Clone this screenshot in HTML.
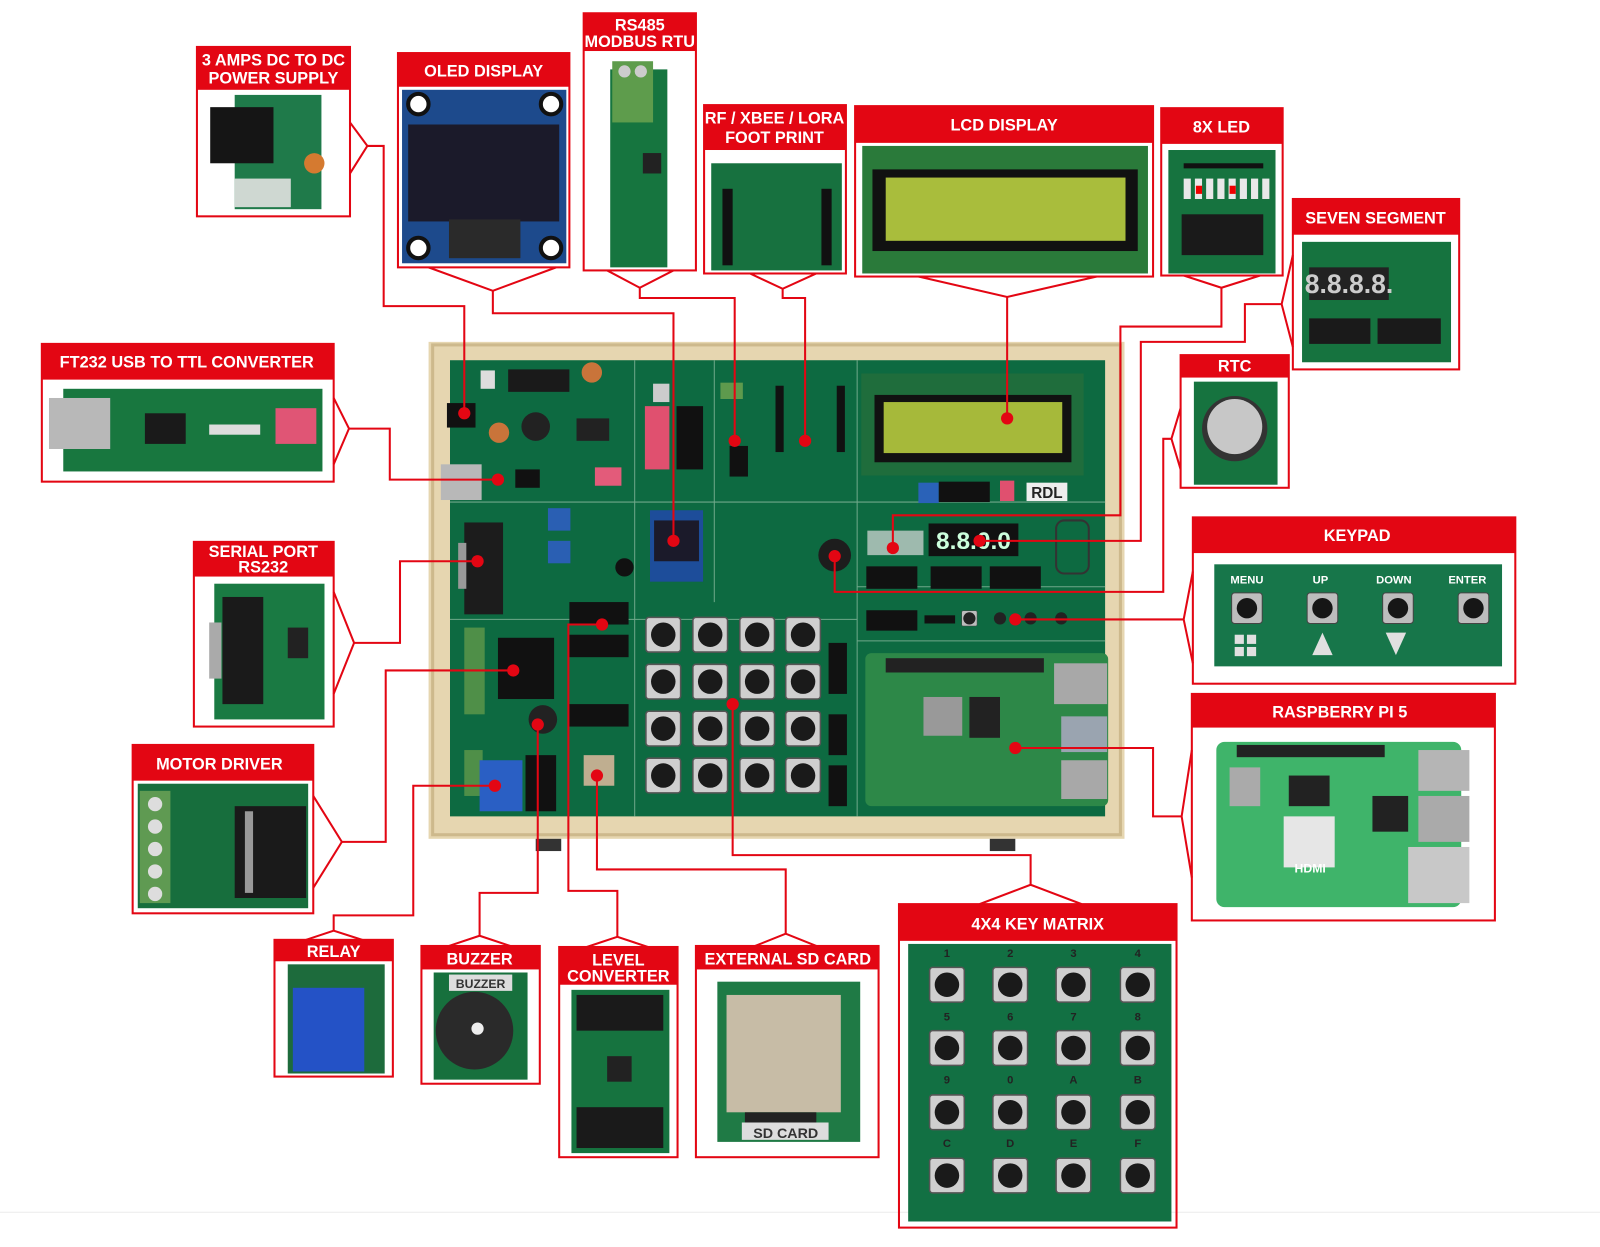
<!DOCTYPE html>
<html><head><meta charset="utf-8"><style>
html,body{margin:0;padding:0;background:#fff;}
svg{display:block;}
text{font-family:"Liberation Sans",Arial,sans-serif;font-weight:bold;}
</style></head><body>
<svg width="1600" height="1247" viewBox="0 0 1568 1222" preserveAspectRatio="none" xmlns="http://www.w3.org/2000/svg">
<defs>
<g id="key"><rect x="-17" y="-17" width="34" height="34" rx="3" fill="#cfcfcf" stroke="#555" stroke-width="1.5"/><circle r="12" fill="#1a1a1a"/></g>
<g id="skey"><rect x="-15" y="-15" width="30" height="30" rx="3" fill="#bdbdbd" stroke="#444"/><circle r="10" fill="#161616"/></g>
</defs>
<rect width="1568" height="1222" fill="#fff"/>
<line x1="0" y1="1188" x2="1568" y2="1188" stroke="#eee" stroke-width="1"/>

<!-- ===== BOARD ===== -->
<rect x="420" y="335" width="682" height="487" fill="#e6d6b0"/>
<rect x="424" y="338" width="674" height="480" fill="none" stroke="#cdb98c" stroke-width="3"/>
<rect x="441" y="353" width="642" height="447" fill="#0d6a41"/>
<rect x="525" y="822" width="25" height="12" fill="#333"/>
<rect x="970" y="822" width="25" height="12" fill="#333"/>
<g stroke="#6fa88a" stroke-width="1" fill="none">
<line x1="441" y1="492" x2="1083" y2="492"/><line x1="441" y1="607" x2="840" y2="607"/>
<line x1="622" y1="353" x2="622" y2="800"/><line x1="700" y1="353" x2="700" y2="590"/>
<line x1="840" y1="353" x2="840" y2="800"/><line x1="840" y1="575" x2="1083" y2="575"/>
<line x1="840" y1="628" x2="1083" y2="628"/>
</g>
<!-- power -->
<rect x="438" y="395" width="28" height="24" fill="#111"/>
<rect x="498" y="362" width="60" height="22" fill="#1a1a1a"/>
<rect x="471" y="363" width="14" height="18" fill="#ddd"/>
<circle cx="580" cy="365" r="10" fill="#c9743a"/><circle cx="489" cy="424" r="10" fill="#c9743a"/>
<circle cx="525" cy="418" r="14" fill="#222"/><rect x="565" y="410" width="32" height="22" fill="#222"/>
<!-- usb -->
<rect x="432" y="455" width="40" height="35" fill="#b8b8b8"/><rect x="505" y="460" width="24" height="18" fill="#111"/>
<rect x="583" y="458" width="26" height="18" fill="#e35b7a"/>
<!-- serial -->
<rect x="455" y="512" width="38" height="90" fill="#1c1c1c"/><rect x="449" y="532" width="8" height="45" fill="#999"/>
<rect x="537" y="498" width="22" height="22" fill="#2a5fb3"/><rect x="537" y="530" width="22" height="22" fill="#2a5fb3"/>
<circle cx="612" cy="556" r="9" fill="#111"/>
<!-- dip -->
<rect x="632" y="398" width="24" height="62" fill="#e0506f"/><rect x="663" y="398" width="26" height="62" fill="#111"/>
<rect x="640" y="376" width="16" height="18" fill="#ccc"/>
<!-- rs485 / xbee -->
<rect x="706" y="375" width="22" height="16" fill="#5e9a4d"/><rect x="715" y="437" width="18" height="30" fill="#111"/>
<rect x="760" y="378" width="8" height="65" fill="#111"/><rect x="820" y="378" width="8" height="65" fill="#111"/>
<!-- oled -->
<rect x="637" y="500" width="52" height="70" fill="#1d4d9a"/><rect x="641" y="510" width="44" height="40" fill="#1b1a2a"/>
<circle cx="818" cy="544" r="16" fill="#1d1d1d"/>
<!-- lcd -->
<rect x="844" y="366" width="218" height="100" fill="#1f6d3c"/>
<rect x="857" y="387" width="193" height="66" fill="#111"/>
<rect x="866" y="394" width="175" height="50" fill="#a6b93a"/>
<rect x="900" y="473" width="20" height="20" fill="#2a62b8"/><rect x="920" y="472" width="50" height="20" fill="#111"/>
<rect x="980" y="471" width="14" height="20" fill="#e0506f"/>
<rect x="1006" y="473" width="40" height="18" fill="#eee"/><text x="1026" y="488" font-size="15" fill="#222" text-anchor="middle">RDL</text>
<!-- 8x led & seven seg -->
<rect x="850" y="520" width="55" height="24" fill="#ddd" opacity="0.7"/>
<rect x="910" y="513" width="88" height="32" fill="#111"/>
<text x="954" y="538" font-size="24" fill="#cfd" text-anchor="middle" font-weight="normal">8.8.0.0</text>
<rect x="849" y="555" width="50" height="22" fill="#111"/><rect x="912" y="555" width="50" height="22" fill="#111"/><rect x="970" y="555" width="50" height="22" fill="#111"/>
<rect x="1035" y="510" width="32" height="52" rx="8" fill="none" stroke="#333" stroke-width="2"/>
<!-- keypad row -->
<rect x="849" y="598" width="50" height="20" fill="#111"/><rect x="906" y="603" width="30" height="8" fill="#111"/>
<use href="#skey" x="950" y="606" transform="translate(950 606) scale(.5) translate(-950 -606)"/>
<circle cx="950" cy="606" r="6" fill="#222"/><circle cx="980" cy="606" r="6" fill="#222"/><circle cx="1010" cy="606" r="6" fill="#222"/><circle cx="1040" cy="606" r="6" fill="#222"/>
<!-- left bottom -->
<rect x="455" y="615" width="20" height="85" fill="#4f8f48"/><rect x="488" y="625" width="55" height="60" fill="#111"/>
<rect x="558" y="590" width="58" height="22" fill="#111"/><rect x="558" y="622" width="58" height="22" fill="#111"/><rect x="558" y="690" width="58" height="22" fill="#111"/>
<circle cx="532" cy="705" r="14" fill="#222"/>
<rect x="455" y="735" width="18" height="45" fill="#4f8f48"/>
<rect x="470" y="745" width="42" height="50" fill="#2a5fc4"/>
<rect x="515" y="740" width="30" height="55" fill="#111"/>
<rect x="572" y="740" width="30" height="30" fill="#bfae90"/>
<!-- key matrix -->
<g>
<use href="#key" x="650" y="622"/><use href="#key" x="696" y="622"/><use href="#key" x="742" y="622"/><use href="#key" x="787" y="622"/>
<use href="#key" x="650" y="668"/><use href="#key" x="696" y="668"/><use href="#key" x="742" y="668"/><use href="#key" x="787" y="668"/>
<use href="#key" x="650" y="714"/><use href="#key" x="696" y="714"/><use href="#key" x="742" y="714"/><use href="#key" x="787" y="714"/>
<use href="#key" x="650" y="760"/><use href="#key" x="696" y="760"/><use href="#key" x="742" y="760"/><use href="#key" x="787" y="760"/>
</g>
<rect x="812" y="630" width="18" height="50" fill="#111"/><rect x="812" y="700" width="18" height="40" fill="#111"/><rect x="812" y="750" width="18" height="40" fill="#111"/>
<!-- rpi on board -->
<rect x="848" y="640" width="238" height="150" rx="6" fill="#2d8848"/>
<rect x="868" y="645" width="155" height="14" fill="#222"/>
<rect x="1033" y="650" width="52" height="40" fill="#a8a8a8"/><rect x="1040" y="702" width="45" height="35" fill="#9aa4b0"/><rect x="1040" y="745" width="45" height="38" fill="#a8a8a8"/>
<rect x="905" y="683" width="38" height="38" fill="#999"/><rect x="950" y="683" width="30" height="40" fill="#222"/>
<!-- ===== CONNECTORS ===== -->
<g fill="none" stroke="#e30613" stroke-width="2">
<polyline points="343,120 360,143 343,170"/><polyline points="360,143 376,143 376,300 455,300 455,405"/>
<polyline points="420,262 483,285 545,262"/><polyline points="483,285 483,307 660,307 660,530"/>
<polyline points="595,265 627,282 660,265"/><polyline points="627,282 627,292 720,292 720,432"/>
<polyline points="735,268 767,283 800,268"/><polyline points="767,283 767,292 789,292 789,432"/>
<polyline points="900,271 987,291 1075,271"/><polyline points="987,291 987,410"/>
<polyline points="1160,270 1197,282 1235,270"/><polyline points="1197,282 1197,320 1098,320 1098,505 875,505 875,537"/>
<polyline points="1267,250 1256,298 1267,340"/><polyline points="1256,298 1220,298 1220,335 1118,335 1118,530 960,530"/>
<polyline points="1157,400 1148,430 1157,460"/><polyline points="1148,430 1140,430 1140,580 818,580 818,545"/>
<polyline points="327,390 342,420 327,455"/><polyline points="342,420 382,420 382,470 488,470"/>
<polyline points="327,580 347,630 327,680"/><polyline points="347,630 392,630 392,550 468,550"/>
<polyline points="307,780 335,825 307,870"/><polyline points="335,825 378,825 378,657 503,657"/>
<polyline points="300,921 327,912 355,921"/><polyline points="327,912 327,897 405,897 405,770 485,770"/>
<polyline points="440,927 470,917 500,927"/><polyline points="470,917 470,875 527,875 527,710"/>
<polyline points="575,928 605,918 635,928"/><polyline points="605,918 605,873 557,873 557,612 590,612"/>
<polyline points="740,927 770,915 800,927"/><polyline points="770,915 770,852 585,852 585,760"/>
<polyline points="960,886 1010,867 1060,886"/><polyline points="1010,867 1010,838 718,838 718,690"/>
<polyline points="1169,560 1160,607 1169,650"/><polyline points="1160,607 995,607"/>
<polyline points="1168,735 1158,800 1168,860"/><polyline points="1158,800 1130,800 1130,733 995,733"/>
</g>
<g fill="#e30613">
<circle cx="455" cy="405" r="6"/><circle cx="660" cy="530" r="6"/><circle cx="720" cy="432" r="6"/><circle cx="789" cy="432" r="6"/>
<circle cx="987" cy="410" r="6"/><circle cx="875" cy="537" r="6"/><circle cx="960" cy="530" r="6"/><circle cx="818" cy="545" r="6"/>
<circle cx="488" cy="470" r="6"/><circle cx="468" cy="550" r="6"/><circle cx="503" cy="657" r="6"/><circle cx="485" cy="770" r="6"/>
<circle cx="527" cy="710" r="6"/><circle cx="590" cy="612" r="6"/><circle cx="585" cy="760" r="6"/><circle cx="718" cy="690" r="6"/>
<circle cx="995" cy="607" r="6"/><circle cx="995" cy="733" r="6"/>
</g>

<!-- ===== CALLOUT BOXES ===== -->
<g fill="none" stroke="#e30613" stroke-width="2">
<rect x="193" y="46" width="150" height="166"/><rect x="390" y="52" width="168" height="210"/>
<rect x="572" y="13" width="110" height="252"/><rect x="690" y="103" width="139" height="165"/>
<rect x="838" y="104" width="292" height="167"/><rect x="1138" y="106" width="119" height="164"/>
<rect x="1267" y="195" width="163" height="167"/><rect x="1157" y="348" width="106" height="130"/>
<rect x="41" y="337" width="286" height="135"/><rect x="190" y="531" width="137" height="181"/>
<rect x="130" y="730" width="177" height="165"/><rect x="1169" y="507" width="316" height="163"/>
<rect x="1168" y="680" width="297" height="222"/><rect x="269" y="921" width="116" height="134"/>
<rect x="413" y="927" width="116" height="135"/><rect x="548" y="928" width="116" height="206"/>
<rect x="682" y="927" width="179" height="207"/><rect x="881" y="886" width="272" height="317"/>
</g>
<g fill="#e30613">
<rect x="193" y="46" width="150" height="42"/><rect x="390" y="52" width="168" height="33"/>
<rect x="572" y="13" width="110" height="37"/><rect x="690" y="103" width="139" height="44"/>
<rect x="838" y="104" width="292" height="36"/><rect x="1138" y="106" width="119" height="35"/>
<rect x="1267" y="195" width="163" height="35"/><rect x="1157" y="348" width="106" height="22"/>
<rect x="41" y="337" width="286" height="35"/><rect x="190" y="531" width="137" height="34"/>
<rect x="130" y="730" width="177" height="35"/><rect x="1169" y="507" width="316" height="35"/>
<rect x="1168" y="680" width="297" height="33"/><rect x="269" y="921" width="116" height="21"/>
<rect x="413" y="927" width="116" height="23"/><rect x="548" y="928" width="116" height="37"/>
<rect x="682" y="927" width="179" height="23"/><rect x="881" y="886" width="272" height="36"/>
</g>
<g fill="#fff" text-anchor="middle" font-size="16">
<text x="268" y="64">3 AMPS DC TO DC</text><text x="268" y="82">POWER SUPPLY</text>
<text x="474" y="75">OLED DISPLAY</text>
<text x="627" y="30">RS485</text><text x="627" y="46">MODBUS RTU</text>
<text x="759" y="121">RF / XBEE / LORA</text><text x="759" y="140">FOOT PRINT</text>
<text x="984" y="128">LCD DISPLAY</text><text x="1197" y="130">8X LED</text>
<text x="1348" y="219">SEVEN SEGMENT</text><text x="1210" y="364">RTC</text>
<text x="183" y="360">FT232 USB TO TTL CONVERTER</text>
<text x="258" y="546">SERIAL PORT</text><text x="258" y="561">RS232</text>
<text x="215" y="754">MOTOR DRIVER</text><text x="1330" y="530">KEYPAD</text>
<text x="1313" y="703">RASPBERRY PI 5</text><text x="327" y="938">RELAY</text>
<text x="470" y="945">BUZZER</text><text x="606" y="946">LEVEL</text><text x="606" y="962">CONVERTER</text>
<text x="772" y="945">EXTERNAL SD CARD</text><text x="1017" y="911">4X4 KEY MATRIX</text>
</g>

<!-- ===== PHOTOS ===== -->
<!-- 3 amps -->
<rect x="230" y="93" width="85" height="112" fill="#1f7a4a"/><rect x="206" y="105" width="62" height="55" fill="#151515"/>
<rect x="230" y="175" width="55" height="28" fill="#cfd8d2"/><circle cx="308" cy="160" r="10" fill="#d57a30"/>
<!-- oled -->
<rect x="394" y="88" width="161" height="170" fill="#1d4a8c"/><rect x="400" y="122" width="148" height="95" fill="#1b1a2a"/>
<rect x="440" y="215" width="70" height="38" fill="#2a2a2a"/>
<circle cx="410" cy="102" r="10" fill="#fff" stroke="#111" stroke-width="4"/><circle cx="540" cy="102" r="10" fill="#fff" stroke="#111" stroke-width="4"/>
<circle cx="410" cy="243" r="10" fill="#fff" stroke="#111" stroke-width="4"/><circle cx="540" cy="243" r="10" fill="#fff" stroke="#111" stroke-width="4"/>
<!-- rs485 -->
<rect x="598" y="68" width="56" height="194" fill="#16753f"/><rect x="600" y="60" width="40" height="60" fill="#5e9c4c"/>
<circle cx="612" cy="70" r="6" fill="#ccc"/><circle cx="628" cy="70" r="6" fill="#ccc"/><rect x="630" y="150" width="18" height="20" fill="#222"/>
<!-- rf -->
<rect x="697" y="160" width="128" height="105" fill="#17713f"/><rect x="708" y="185" width="10" height="75" fill="#111"/><rect x="805" y="185" width="10" height="75" fill="#111"/>
<!-- lcd -->
<rect x="845" y="143" width="280" height="125" fill="#2a7a3a"/><rect x="855" y="166" width="260" height="80" fill="#111"/>
<rect x="868" y="174" width="235" height="62" fill="#a9bd3c"/>
<!-- 8x led -->
<rect x="1145" y="147" width="105" height="121" fill="#16733f"/><rect x="1160" y="160" width="78" height="5" fill="#111"/>
<g fill="#e8e8e8"><rect x="1160" y="175" width="7" height="20"/><rect x="1171" y="175" width="7" height="20"/><rect x="1182" y="175" width="7" height="20"/><rect x="1193" y="175" width="7" height="20"/><rect x="1204" y="175" width="7" height="20"/><rect x="1215" y="175" width="7" height="20"/><rect x="1226" y="175" width="7" height="20"/><rect x="1237" y="175" width="7" height="20"/></g>
<rect x="1172" y="182" width="6" height="8" fill="#e00"/><rect x="1205" y="182" width="6" height="8" fill="#e00"/>
<rect x="1158" y="210" width="80" height="40" fill="#1a1a1a"/>
<!-- 7seg -->
<rect x="1276" y="237" width="146" height="118" fill="#16733f"/><rect x="1283" y="262" width="78" height="32" fill="#222"/>
<text x="1322" y="287" font-size="26" fill="#ccc" text-anchor="middle" font-weight="normal">8.8.8.8.</text>
<rect x="1283" y="312" width="60" height="25" fill="#1a1a1a"/><rect x="1350" y="312" width="62" height="25" fill="#1a1a1a"/>
<!-- rtc -->
<rect x="1170" y="374" width="82" height="101" fill="#16733f"/><circle cx="1210" cy="420" r="32" fill="#333"/><circle cx="1210" cy="418" r="27" fill="#c7c7c7"/>
<!-- ft232 -->
<rect x="62" y="381" width="254" height="81" fill="#18773f"/><rect x="48" y="390" width="60" height="50" fill="#b8b8b8"/>
<rect x="142" y="405" width="40" height="30" fill="#1a1a1a"/><rect x="270" y="400" width="40" height="35" fill="#e05575"/>
<rect x="205" y="416" width="50" height="10" fill="#ddd"/>
<!-- serial -->
<rect x="210" y="572" width="108" height="133" fill="#1a7a43"/><rect x="205" y="610" width="12" height="55" fill="#aaa"/>
<rect x="218" y="585" width="40" height="105" fill="#1a1a1a"/><rect x="282" y="615" width="20" height="30" fill="#222"/>
<!-- motor -->
<rect x="135" y="768" width="167" height="122" fill="#176e3d"/><rect x="137" y="775" width="30" height="110" fill="#5f9a52"/>
<g fill="#ddd"><circle cx="152" cy="788" r="7"/><circle cx="152" cy="810" r="7"/><circle cx="152" cy="832" r="7"/><circle cx="152" cy="854" r="7"/><circle cx="152" cy="876" r="7"/></g>
<rect x="230" y="790" width="70" height="90" fill="#1a1a1a"/><rect x="240" y="795" width="8" height="80" fill="#999"/>
<!-- keypad -->
<rect x="1190" y="553" width="282" height="100" fill="#17764a"/>
<use href="#skey" x="1222" y="596"/><use href="#skey" x="1296" y="596"/><use href="#skey" x="1370" y="596"/><use href="#skey" x="1444" y="596"/>
<g fill="#fff" font-size="11" text-anchor="middle" font-weight="normal"><text x="1222" y="572">MENU</text><text x="1294" y="572">UP</text><text x="1366" y="572">DOWN</text><text x="1438" y="572">ENTER</text></g>
<g fill="#e0e0e0"><rect x="1210" y="622" width="9" height="9"/><rect x="1222" y="622" width="9" height="9"/><rect x="1210" y="634" width="9" height="9"/><rect x="1222" y="634" width="9" height="9"/>
<polygon points="1296,620 1306,642 1286,642"/><polygon points="1358,620 1378,620 1368,642"/></g>
<!-- rpi -->
<rect x="1192" y="727" width="240" height="162" rx="8" fill="#3fb46a"/><rect x="1212" y="730" width="145" height="12" fill="#222"/>
<rect x="1205" y="752" width="30" height="38" fill="#aaa"/><rect x="1263" y="760" width="40" height="30" fill="#222"/><rect x="1345" y="780" width="35" height="35" fill="#222"/>
<rect x="1258" y="800" width="50" height="50" fill="#e6e6e6"/>
<rect x="1390" y="735" width="50" height="40" fill="#b5b5b5"/><rect x="1390" y="780" width="50" height="45" fill="#aaa"/><rect x="1380" y="830" width="60" height="55" fill="#c8c8c8"/>
<text x="1284" y="855" font-size="12" fill="#fff" text-anchor="middle">HDMI</text>
<!-- relay -->
<rect x="282" y="945" width="95" height="107" fill="#1d6b3c"/><rect x="287" y="968" width="70" height="82" fill="#2452c6"/>
<!-- buzzer -->
<rect x="425" y="953" width="92" height="105" fill="#17703d"/><circle cx="465" cy="1010" r="38" fill="#2a2a2a"/><circle cx="468" cy="1008" r="6" fill="#eee"/>
<rect x="440" y="955" width="62" height="16" fill="#ddd"/><text x="471" y="968" font-size="12" fill="#333" text-anchor="middle" font-weight="normal">BUZZER</text>
<!-- level -->
<rect x="560" y="970" width="96" height="160" fill="#16733f"/><rect x="565" y="975" width="85" height="35" fill="#1a1a1a"/><rect x="565" y="1085" width="85" height="40" fill="#1a1a1a"/>
<rect x="595" y="1035" width="24" height="25" fill="#222"/>
<!-- sd -->
<rect x="703" y="962" width="140" height="157" fill="#1f7a45"/><rect x="712" y="975" width="112" height="115" fill="#c7bca6"/>
<rect x="730" y="1090" width="70" height="15" fill="#222"/><rect x="727" y="1100" width="85" height="17" fill="#ddd"/>
<text x="770" y="1115" font-size="14" fill="#333" text-anchor="middle" font-weight="normal">SD CARD</text>
<!-- key matrix -->
<rect x="890" y="925" width="258" height="272" fill="#127043"/>
<g transform="translate(0,0)">
<use href="#key" x="928" y="965"/><use href="#key" x="990" y="965"/><use href="#key" x="1052" y="965"/><use href="#key" x="1115" y="965"/>
<use href="#key" x="928" y="1027"/><use href="#key" x="990" y="1027"/><use href="#key" x="1052" y="1027"/><use href="#key" x="1115" y="1027"/>
<use href="#key" x="928" y="1090"/><use href="#key" x="990" y="1090"/><use href="#key" x="1052" y="1090"/><use href="#key" x="1115" y="1090"/>
<use href="#key" x="928" y="1152"/><use href="#key" x="990" y="1152"/><use href="#key" x="1052" y="1152"/><use href="#key" x="1115" y="1152"/>
</g>
<g fill="#222" font-size="11" text-anchor="middle" font-weight="normal">
<text x="928" y="938">1</text><text x="990" y="938">2</text><text x="1052" y="938">3</text><text x="1115" y="938">4</text>
<text x="928" y="1000">5</text><text x="990" y="1000">6</text><text x="1052" y="1000">7</text><text x="1115" y="1000">8</text>
<text x="928" y="1062">9</text><text x="990" y="1062">0</text><text x="1052" y="1062">A</text><text x="1115" y="1062">B</text>
<text x="928" y="1124">C</text><text x="990" y="1124">D</text><text x="1052" y="1124">E</text><text x="1115" y="1124">F</text>
</g>
</svg>
</body></html>
